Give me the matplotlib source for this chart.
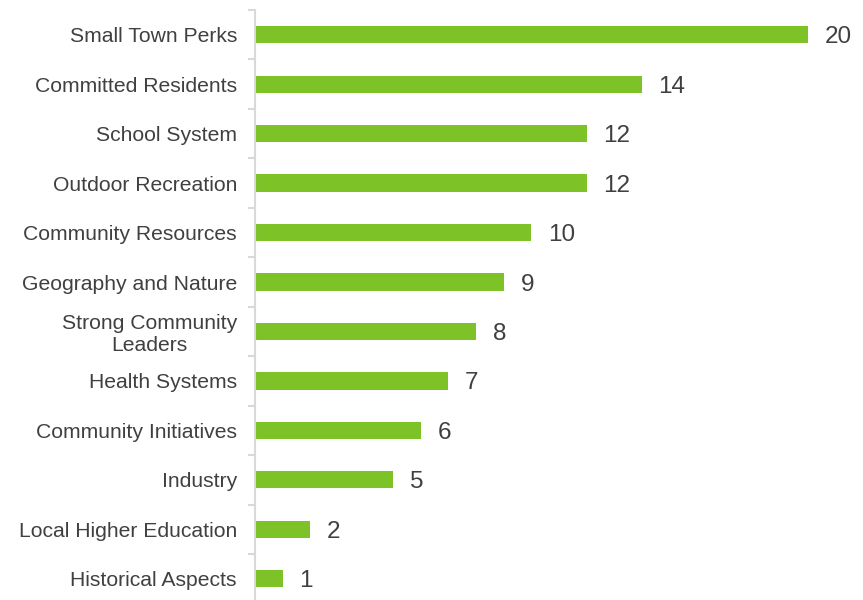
import matplotlib.pyplot as plt
import numpy as np

categorias = ["Small Town Perks", "Committed Residents", "School System", "Outdoor Recreation",
              "Community Resources", "Geography and Nature", "Strong Community\nLeaders",
              "Health Systems", "Community Initiatives", "Industry", "Local Higher Education",
              "Historical Aspects"]
valores = [20, 14, 12, 12, 10, 9, 8, 7, 6, 5, 2, 1]

plt.rcParams['font.family'] = ['Liberation Sans', 'DejaVu Sans']

fig = plt.figure(figsize=(8.63, 6.0), dpi=100)
ax = fig.add_axes([255 / 863, -0.0058, 1 - 255 / 863, 1 - 10 / 600 + 0.0058])

y = np.arange(len(categorias))
ax.barh(y, valores, height=0.35, color='#7DC226', zorder=2)

for yi, v in zip(y, valores):
    ax.annotate(str(v), (v, yi), xytext=(12, 0), textcoords='offset points',
                va='center_baseline', ha='left', fontsize=17.5, color='#404040')

ax.set_ylim(len(categorias) - 0.5, -0.5)
ax.set_xlim(0, 22)

ax.set_yticks(y)
ax.set_yticklabels(categorias, fontsize=15.2, color='#404040')
for lbl in ax.get_yticklabels():
    lbl.set_multialignment('center')
    lbl.set_linespacing(1.2)
ax.set_yticks(np.arange(-0.5, len(categorias), 1), minor=True)
ax.tick_params(axis='y', which='major', length=0, pad=13)
ax.tick_params(axis='y', which='minor', length=5, width=1.5, color='#D9D9D9')
ax.set_xticks([])

for s in ['top', 'right', 'bottom']:
    ax.spines[s].set_visible(False)
ax.spines['left'].set_color('#D9D9D9')
ax.spines['left'].set_linewidth(1.5)

fig.savefig('out.png', dpi=100)
